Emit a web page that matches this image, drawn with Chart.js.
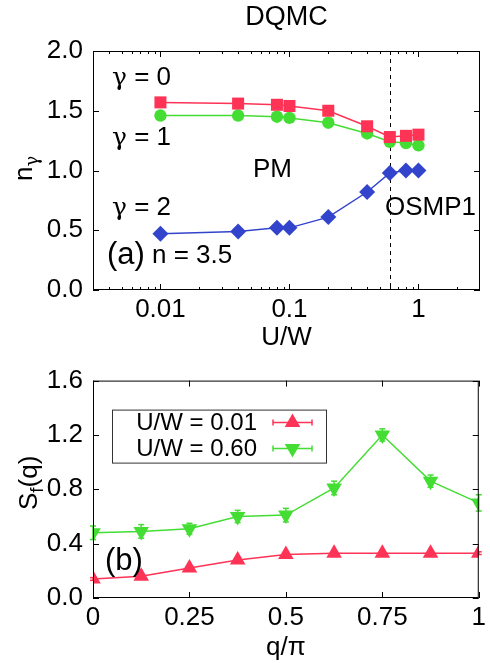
<!DOCTYPE html>
<html>
<head>
<meta charset="utf-8">
<script src="https://cdn.jsdelivr.net/npm/chart.js@4.4.1/dist/chart.umd.min.js"></script>
<style>
	body { margin: 0; background: #fff; }
	#wrap { position: relative; width: 490px; height: 663px; }
	#wrap canvas { position: absolute; left: 0; }
	#chart-a { top: 0; }
	#chart-b { top: 355px; }
</style>
</head>
<body>
<div id="wrap">
	<canvas id="chart-a" width="490" height="355"></canvas>
	<canvas id="chart-b" width="490" height="308"></canvas>
</div>
<script>
//panel (a): orbital occupations vs U/W
var uwValues = [0.01, 0.04, 0.08, 0.1, 0.2, 0.4, 0.6, 0.8, 1.0];
var nGamma0 = [1.57, 1.56, 1.55, 1.54, 1.50, 1.37, 1.28, 1.29, 1.30];
var nGamma1 = [1.46, 1.46, 1.45, 1.44, 1.40, 1.31, 1.24, 1.23, 1.21];
var nGamma2 = [0.47, 0.49, 0.52, 0.52, 0.61, 0.82, 0.98, 1.00, 1.00];
var uwTicks = [0.01, 0.1, 1];
var uwCritical = 0.6;

//panel (b): structure factor vs q/pi
var qValues = [0, 0.125, 0.25, 0.375, 0.5, 0.625, 0.75, 0.875, 1];
var sfLowU = [0.14, 0.16, 0.22, 0.28, 0.32, 0.33, 0.33, 0.33, 0.33];
var sfLowUErr = [0.01, 0.01, 0.01, 0.01, 0.01, 0.01, 0.01, 0.01, 0.01];
var sfHighU = [0.48, 0.49, 0.51, 0.60, 0.61, 0.81, 1.20, 0.86, 0.70];
var sfHighUErr = [0.05, 0.05, 0.04, 0.045, 0.05, 0.05, 0.045, 0.045, 0.06];
var qTicks = [0, 0.25, 0.5, 0.75, 1];

var FONT = '"Liberation Sans", Arial, Helvetica, sans-serif';
var GREEK = '"DejaVu Serif", "Liberation Serif", serif';
var RED = '#ff3355', GREEN = '#44dd33', BLUE = '#3344cc';

Chart.defaults.font.family = FONT;
Chart.defaults.color = '#000';

function toPoints( xs, ys ) {
	return xs.map(function ( x, i ) { return { x: x, y: ys[i] }; });
}

function series( label, ys, xs, color, style, radius, extra ) {
	var ds = {
		label: label,
		data: toPoints( xs, ys ),
		borderColor: color,
		backgroundColor: color,
		borderWidth: 1.5,
		pointStyle: style,
		pointRadius: radius,
		pointBorderWidth: 0,
		pointBackgroundColor: color,
		tension: 0
	};
	for ( var k in extra ) { ds[k] = extra[k]; }
	return ds;
}

function line( ctx, x1, y1, x2, y2 ) {
	ctx.beginPath();
	ctx.moveTo( x1, y1 );
	ctx.lineTo( x2, y2 );
	ctx.stroke();
}

//frame box with inward ticks on all four sides
function drawFrame( chart, minorX ) {
	var ctx = chart.ctx, a = chart.chartArea,
		xs = chart.scales.x, ys = chart.scales.y;
	ctx.save();
	ctx.strokeStyle = '#000';
	ctx.lineWidth = 1;
	ctx.strokeRect( a.left + 0.5, a.top + 0.5, a.right - a.left - 1, a.bottom - a.top - 1 );
	ys.ticks.forEach(function ( t ) {
		var y = Math.round( ys.getPixelForValue( t.value ) ) + 0.5;
		line( ctx, a.left, y, a.left + 6, y );
		line( ctx, a.right, y, a.right - 6, y );
	});
	xs.ticks.forEach(function ( t ) {
		var x = Math.round( xs.getPixelForValue( t.value ) ) + 0.5;
		line( ctx, x, a.bottom, x, a.bottom - 6 );
		line( ctx, x, a.top, x, a.top + 6 );
	});
	( minorX || [] ).forEach(function ( v ) {
		var x = Math.round( xs.getPixelForValue( v ) ) + 0.5;
		line( ctx, x, a.bottom, x, a.bottom - 3 );
		line( ctx, x, a.top, x, a.top + 3 );
	});
	ctx.restore();
}

//text made of pieces in different fonts, drawn left to right
function rich( ctx, parts, x, y ) {
	ctx.textAlign = 'left';
	parts.forEach(function ( p ) {
		ctx.font = p[1];
		ctx.fillText( p[0], x, y + ( p[2] || 0 ) );
		x += ctx.measureText( p[0] ).width;
	});
}

//rotated y title
function drawYTitle( ctx, x, y, parts ) {
	ctx.save();
	ctx.translate( x, y );
	ctx.rotate( -Math.PI / 2 );
	ctx.fillStyle = '#000';
	ctx.textBaseline = 'alphabetic';
	rich( ctx, parts, 0, 0 );
	ctx.restore();
}

function text( ctx, str, x, y, size, align ) {
	ctx.font = size + 'px ' + FONT;
	ctx.textAlign = align || 'left';
	ctx.fillText( str, x, y );
}

function gammaLabel( ctx, n, x, y ) {
	rich( ctx, [['\u03b3', '25px ' + GREEK], [' = ' + n, '26px ' + FONT]], x, y );
}

function triangle( ctx, x, y, r, down ) {
	var s = down ? -1 : 1;
	ctx.beginPath();
	ctx.moveTo( x, y - s * r );
	ctx.lineTo( x + r * 0.866, y + s * r / 2 );
	ctx.lineTo( x - r * 0.866, y + s * r / 2 );
	ctx.closePath();
	ctx.fill();
}

//minor log ticks between the decades
var minorUw = [];
[0.001, 0.01, 0.1, 1].forEach(function ( d ) {
	for ( var k = 2; k <= 9; k++ ) {
		var v = k * d;
		if ( v > 0.003 && v < 3 && uwTicks.indexOf( v ) < 0 ) minorUw.push( v );
	}
});

var panelA = {
	id: 'panelA',
	beforeDatasetsDraw: function ( chart ) {
		var ctx = chart.ctx, a = chart.chartArea;
		var x = Math.round( chart.scales.x.getPixelForValue( uwCritical ) ) + 0.5;
		ctx.save();
		ctx.strokeStyle = '#000';
		ctx.lineWidth = 1;
		ctx.setLineDash( [4, 4] );
		line( ctx, x, a.top, x, a.bottom );
		ctx.restore();
	},
	afterDraw: function ( chart ) {
		var ctx = chart.ctx, a = chart.chartArea;
		drawFrame( chart, minorUw );
		ctx.save();
		ctx.fillStyle = '#000';
		ctx.textBaseline = 'alphabetic';
		text( ctx, 'DQMC', ( a.left + a.right ) / 2, 25, 27, 'center' );
		gammaLabel( ctx, 0, 112, 85 );
		gammaLabel( ctx, 1, 112, 145 );
		gammaLabel( ctx, 2, 112, 215 );
		text( ctx, 'PM', 253, 177, 26 );
		text( ctx, 'OSMP1', 385, 215, 26 );
		text( ctx, '(a)', 107, 264, 31 );
		text( ctx, 'n = 3.5', 152, 263, 26 );
		ctx.restore();
		drawYTitle( ctx, 32, 181, [['n', '26px ' + FONT], ['\u03b3', '18px ' + GREEK, 6]] );
	}
};

var panelB = {
	id: 'panelB',
	beforeDatasetsDraw: function ( chart ) {
		var ctx = chart.ctx, ys = chart.scales.y, xs = chart.scales.x;
		ctx.save();
		ctx.lineWidth = 1.5;
		chart.data.datasets.forEach(function ( ds ) {
			ctx.strokeStyle = ds.borderColor;
			ds.data.forEach(function ( p, i ) {
				var x = xs.getPixelForValue( p.x ),
					y1 = ys.getPixelForValue( p.y - ds.errors[i] ),
					y2 = ys.getPixelForValue( p.y + ds.errors[i] );
				line( ctx, x, y1, x, y2 );
				line( ctx, x - 3, y1, x + 3, y1 );
				line( ctx, x - 3, y2, x + 3, y2 );
			});
		});
		ctx.restore();
	},
	afterDraw: function ( chart ) {
		var ctx = chart.ctx, a = chart.chartArea;
		drawFrame( chart );
		ctx.save();
		ctx.fillStyle = '#000';
		ctx.textBaseline = 'alphabetic';
		text( ctx, '(b)', 105, 215, 31 );

		//legend box
		var bx = a.left + 19, by = a.top + 29;
		ctx.fillStyle = '#fff';
		ctx.fillRect( bx, by, 214, 53 );
		ctx.strokeStyle = '#333';
		ctx.lineWidth = 1;
		ctx.strokeRect( bx + 0.5, by + 0.5, 214, 53 );
		ctx.textBaseline = 'middle';
		chart.data.datasets.forEach(function ( ds, i ) {
			var y = by + 13 + i * 26, x1 = a.left + 180, x2 = a.left + 219;
			ctx.fillStyle = '#000';
			text( ctx, ds.label, a.left + 164, y + 1, 24, 'right' );
			ctx.strokeStyle = ds.borderColor;
			ctx.lineWidth = 1.5;
			line( ctx, x1, y, x2, y );
			line( ctx, x1, y - 3, x1, y + 3 );
			line( ctx, x2, y - 3, x2, y + 3 );
			ctx.fillStyle = ds.borderColor;
			triangle( ctx, ( x1 + x2 ) / 2, y, 9, ds.pointRotation === 180 );
		});
		ctx.restore();
		drawYTitle( ctx, 37, 155, [['S', '26px ' + FONT], ['f', '19px ' + FONT, 6], ['(q)', '26px ' + FONT]] );
	}
};

function baseScales( xOpts, yOpts ) {
	var tickFont = { size: 26 };
	xOpts.grid = { display: false, drawTicks: false };
	xOpts.border = { display: false };
	xOpts.ticks = Object.assign({ autoSkip: false, maxRotation: 0, padding: 4, font: tickFont }, xOpts.ticks );
	xOpts.afterFit = function ( s ) { s.height = 65; };
	yOpts.grid = { display: false, drawTicks: false };
	yOpts.border = { display: false };
	yOpts.ticks = Object.assign({ padding: 10, font: tickFont, callback: function ( v ) { return v.toFixed(1); } }, yOpts.ticks );
	yOpts.afterFit = function ( s ) { s.width = 93; };
	return { x: xOpts, y: yOpts };
}

function fixedTicks( list ) {
	return function ( s ) { s.ticks = list.map(function ( v ) { return { value: v }; }); };
}

var commonPlugins = {
	legend: { display: false },
	tooltip: { enabled: false },
	title: { display: false }
};

//building chart a
new Chart( document.getElementById('chart-a').getContext('2d'), {
	type: 'line',
	data: {
		datasets: [
			series( '\u03b3 = 0', nGamma0, uwValues, RED, 'rect', 8.5 ),
			series( '\u03b3 = 1', nGamma1, uwValues, GREEN, 'circle', 6.2 ),
			series( '\u03b3 = 2', nGamma2, uwValues, BLUE, 'rectRot', 8 )
		]
	},
	options: {
		responsive: false,
		animation: false,
		devicePixelRatio: 1,
		layout: { padding: { top: 51, right: 10, left: 0, bottom: 0 } },
		plugins: commonPlugins,
		scales: baseScales(
			{
				type: 'logarithmic', min: 0.003, max: 3, bounds: 'data',
				afterBuildTicks: fixedTicks( uwTicks ),
				ticks: { callback: function ( v ) { return String( v ); } },
				title: { display: true, text: 'U/W', font: { size: 26 }, padding: { top: 0, bottom: 2 } }
			},
			{ min: 0, max: 2, ticks: { stepSize: 0.5 } }
		)
	},
	plugins: [panelA]
});

//building chart b
new Chart( document.getElementById('chart-b').getContext('2d'), {
	type: 'line',
	data: {
		datasets: [
			series( 'U/W = 0.01', sfLowU, qValues, RED, 'triangle', 9, { errors: sfLowUErr } ),
			series( 'U/W = 0.60', sfHighU, qValues, GREEN, 'triangle', 9, { errors: sfHighUErr, pointRotation: 180 } )
		]
	},
	options: {
		responsive: false,
		animation: false,
		devicePixelRatio: 1,
		layout: { padding: { top: 6, right: 10, left: 0, bottom: 0 } },
		plugins: commonPlugins,
		scales: baseScales(
			{
				type: 'linear', min: 0, max: 1,
				afterBuildTicks: fixedTicks( qTicks ),
				ticks: { callback: function ( v ) { return String( v ); } },
				title: { display: true, text: 'q/\u03c0', font: { size: 26 }, padding: { top: 0, bottom: 0 } }
			},
			{ min: 0, max: 1.6, ticks: { stepSize: 0.4 } }
		)
	},
	plugins: [panelB]
});
</script>
</body>
</html>
